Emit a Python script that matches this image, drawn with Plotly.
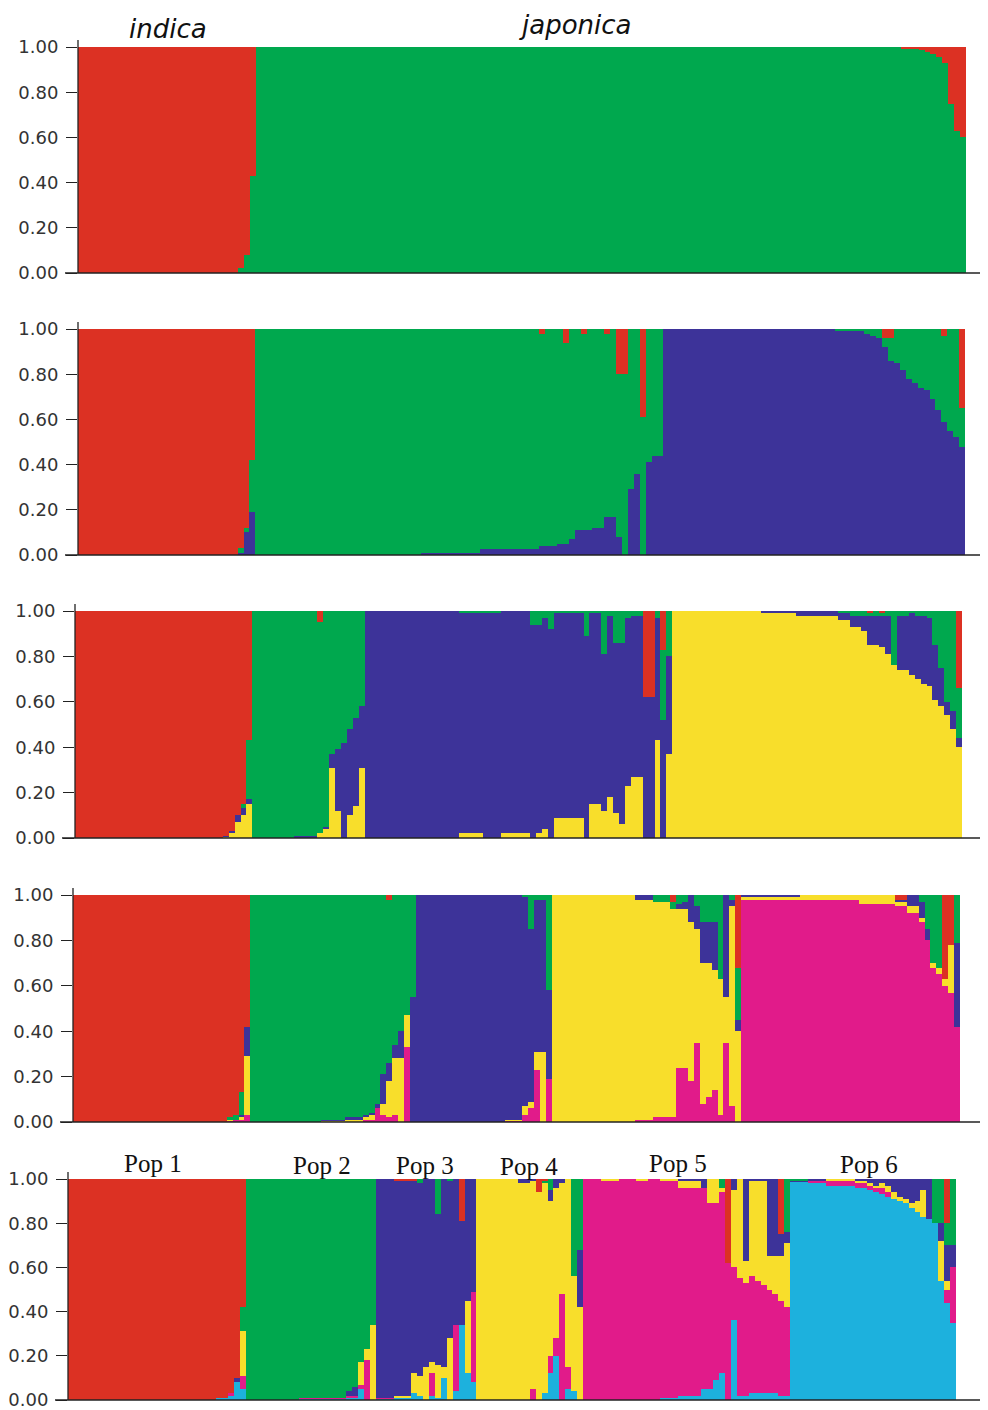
import plotly.graph_objects as go

# ---------------- data ----------------
CLUSTERS = ["red", "green", "blue", "yellow", "magenta", "cyan"]
COLORS = {"red": "#DC3123", "green": "#00A84E", "blue": "#3D3399",
          "yellow": "#F8DE2B", "magenta": "#E11B8A", "cyan": "#1DB1DD"}
TICK_VALS = [0.0, 0.2, 0.4, 0.6, 0.8, 1.0]
TICK_TEXT = ["0.00", "0.20", "0.40", "0.60", "0.80", "1.00"]
GROUP_LABELS = ["indica", "japonica"]
POP_LABELS = ["Pop 1", "Pop 2", "Pop 3", "Pop 4", "Pop 5", "Pop 6"]

# run-length lists: (number of individuals, membership per cluster in CLUSTERS order)
K2_RUNS = [
    (27, (1, 0)), (1, (0.98, 0.02)), (1, (0.92, 0.08)), (1, (0.57, 0.43)),
    (109, (0, 1)), (1, (0.005, 0.995)), (2, (0.01, 0.99)), (1, (0.015, 0.985)),
    (1, (0.02, 0.98)), (1, (0.03, 0.97)), (1, (0.045, 0.955)), (1, (0.07, 0.93)),
    (1, (0.25, 0.75)), (1, (0.37, 0.63)), (1, (0.40, 0.60)),
]
K3_RUNS = [
    (27, (1, 0, 0)), (1, (0.97, 0.02, 0.01)), (1, (0.88, 0.02, 0.10)), (1, (0.58, 0.23, 0.19)),
    (28, (0, 1, 0)), (10, (0, 0.99, 0.01)), (10, (0, 0.975, 0.025)),
    (1, (0.02, 0.94, 0.04)), (2, (0, 0.96, 0.04)), (1, (0, 0.95, 0.05)), (1, (0.06, 0.89, 0.05)),
    (1, (0, 0.93, 0.07)), (1, (0, 0.89, 0.11)), (1, (0.02, 0.87, 0.11)), (1, (0, 0.89, 0.11)),
    (2, (0, 0.88, 0.12)), (1, (0.02, 0.81, 0.17)), (1, (0, 0.83, 0.17)), (1, (0.20, 0.72, 0.08)),
    (1, (0.20, 0.80, 0)), (1, (0, 0.71, 0.29)), (1, (0, 0.64, 0.36)), (1, (0.39, 0.61, 0)),
    (1, (0, 0.59, 0.41)), (2, (0, 0.56, 0.44)),
    (29, (0, 0, 1)), (5, (0, 0.01, 0.99)), (1, (0, 0.02, 0.98)), (1, (0, 0.03, 0.97)),
    (1, (0, 0.04, 0.96)), (1, (0.04, 0.04, 0.92)), (1, (0.04, 0.10, 0.86)), (1, (0, 0.15, 0.85)),
    (1, (0, 0.18, 0.82)), (1, (0, 0.22, 0.78)), (1, (0, 0.24, 0.76)), (1, (0, 0.26, 0.74)),
    (1, (0, 0.27, 0.73)), (1, (0, 0.31, 0.69)), (1, (0, 0.36, 0.64)), (1, (0.03, 0.38, 0.59)),
    (1, (0, 0.45, 0.55)), (1, (0, 0.48, 0.52)), (1, (0.35, 0.17, 0.48)),
]
K4_RUNS = [
    (25, (1, 0, 0, 0)), (1, (0.99, 0, 0.005, 0.005)), (1, (0.97, 0, 0.01, 0.02)),
    (1, (0.90, 0, 0.03, 0.07)), (1, (0.85, 0.02, 0.03, 0.10)), (1, (0.57, 0.26, 0.02, 0.15)),
    (7, (0, 1, 0, 0)), (4, (0, 0.99, 0.01, 0)), (1, (0.05, 0.93, 0, 0.02)), (1, (0, 0.95, 0.01, 0.04)),
    (1, (0, 0.63, 0.06, 0.31)), (1, (0, 0.61, 0.27, 0.12)), (1, (0, 0.58, 0.42, 0)),
    (1, (0, 0.52, 0.38, 0.10)), (1, (0, 0.47, 0.39, 0.14)), (1, (0, 0.42, 0.27, 0.31)),
    (16, (0, 0, 1, 0)), (4, (0, 0.01, 0.97, 0.02)), (3, (0, 0.01, 0.99, 0)), (5, (0, 0, 0.98, 0.02)),
    (1, (0, 0.06, 0.94, 0)), (1, (0, 0.06, 0.92, 0.02)), (1, (0, 0.03, 0.93, 0.04)),
    (1, (0, 0.08, 0.92, 0)), (5, (0, 0.01, 0.90, 0.09)), (1, (0, 0.11, 0.89, 0)),
    (2, (0, 0.01, 0.84, 0.15)), (1, (0, 0.19, 0.69, 0.12)), (1, (0, 0.02, 0.80, 0.18)),
    (1, (0, 0.14, 0.75, 0.11)), (1, (0, 0.14, 0.80, 0.06)), (1, (0, 0.03, 0.74, 0.23)),
    (2, (0, 0.02, 0.71, 0.27)), (2, (0.38, 0, 0.62, 0)), (1, (0, 0.03, 0.54, 0.43)),
    (1, (0.17, 0.31, 0.52, 0)), (1, (0, 0.20, 0.43, 0.37)),
    (15, (0, 0, 0, 1)), (6, (0, 0, 0.01, 0.99)), (7, (0, 0, 0.02, 0.98)), (2, (0, 0.01, 0.03, 0.96)),
    (2, (0, 0.02, 0.05, 0.93)), (1, (0, 0.02, 0.07, 0.91)), (1, (0.01, 0.01, 0.13, 0.85)),
    (1, (0, 0.02, 0.13, 0.85)), (1, (0.01, 0.01, 0.14, 0.84)), (1, (0, 0.02, 0.17, 0.81)),
    (1, (0, 0.24, 0, 0.76)), (2, (0, 0.02, 0.24, 0.74)), (1, (0, 0.01, 0.27, 0.72)),
    (1, (0, 0.02, 0.28, 0.70)), (1, (0, 0.02, 0.30, 0.68)), (1, (0, 0.03, 0.30, 0.67)),
    (1, (0, 0.15, 0.24, 0.61)), (1, (0, 0.25, 0.17, 0.58)), (1, (0, 0.40, 0.06, 0.54)),
    (1, (0, 0.44, 0.08, 0.48)), (1, (0.34, 0.22, 0.04, 0.40)),
]
K5_RUNS = [
    (26, (1, 0, 0, 0, 0)), (1, (0.98, 0.01, 0, 0.005, 0.005)), (1, (0.97, 0.02, 0, 0, 0.01)),
    (1, (0.87, 0.10, 0.01, 0.01, 0.01)), (1, (0.58, 0, 0.13, 0.26, 0.03)),
    (12, (0, 1, 0, 0, 0)), (4, (0, 0.99, 0.005, 0.005, 0)), (3, (0, 0.98, 0.01, 0.01, 0)),
    (1, (0, 0.97, 0.01, 0.01, 0.01)), (1, (0, 0.96, 0.01, 0.02, 0.01)), (1, (0, 0.92, 0.02, 0, 0.06)),
    (1, (0, 0.79, 0.13, 0.05, 0.03)), (1, (0.02, 0.72, 0.08, 0.16, 0.02)), (1, (0, 0.66, 0.06, 0.25, 0.03)),
    (1, (0, 0.60, 0.12, 0.28, 0)), (1, (0, 0.53, 0, 0.14, 0.33)), (1, (0, 0.45, 0.55, 0, 0)),
    (15, (0, 0, 1, 0, 0)), (3, (0, 0, 0.99, 0.005, 0.005)), (1, (0, 0.01, 0.92, 0.04, 0.03)),
    (1, (0, 0.15, 0.76, 0.03, 0.06)), (1, (0, 0.02, 0.67, 0.08, 0.23)), (1, (0, 0.02, 0.67, 0.31, 0)),
    (1, (0, 0.42, 0.39, 0, 0.19)),
    (14, (0, 0, 0, 1, 0)), (3, (0, 0, 0.02, 0.97, 0.01)), (3, (0, 0.03, 0, 0.95, 0.02)),
    (1, (0.03, 0.03, 0, 0.92, 0.02)), (1, (0, 0.04, 0.02, 0.70, 0.24)), (1, (0, 0.03, 0.03, 0.70, 0.24)),
    (1, (0, 0, 0.12, 0.70, 0.18)), (1, (0, 0.05, 0.10, 0.50, 0.35)), (1, (0, 0.12, 0.18, 0.62, 0.08)),
    (1, (0, 0.12, 0.18, 0.59, 0.11)), (1, (0, 0.12, 0.21, 0.53, 0.14)), (1, (0, 0.37, 0, 0.60, 0.03)),
    (1, (0, 0, 0.45, 0.20, 0.35)), (1, (0, 0.02, 0.03, 0.88, 0.07)), (1, (0.32, 0.23, 0.05, 0.40, 0)),
    (10, (0, 0, 0.01, 0.01, 0.98)), (10, (0, 0, 0, 0.02, 0.98)), (6, (0, 0, 0, 0.04, 0.96)),
    (2, (0.02, 0, 0.01, 0.02, 0.95)), (2, (0, 0, 0.05, 0.03, 0.92)), (1, (0, 0.03, 0.07, 0.02, 0.88)),
    (1, (0, 0.15, 0.05, 0, 0.80)), (1, (0, 0.30, 0, 0.02, 0.68)), (1, (0, 0.32, 0, 0.03, 0.65)),
    (1, (0.37, 0, 0, 0.03, 0.60)), (1, (0.22, 0, 0, 0.21, 0.57)), (1, (0, 0.21, 0.37, 0, 0.42)),
]
K6_RUNS = [
    (25, (1, 0, 0, 0, 0, 0)), (2, (0.99, 0, 0, 0, 0, 0.01)), (1, (0.97, 0, 0, 0, 0.01, 0.02)),
    (1, (0.90, 0, 0.02, 0, 0, 0.08)), (1, (0.58, 0.11, 0, 0.20, 0.06, 0.05)),
    (9, (0, 1, 0, 0, 0, 0)), (8, (0, 0.99, 0, 0, 0.005, 0.005)), (1, (0, 0.96, 0.02, 0, 0.01, 0.01)),
    (1, (0, 0.94, 0.04, 0, 0.01, 0.01)), (1, (0, 0.83, 0, 0.10, 0.02, 0.05)),
    (1, (0, 0.77, 0, 0.05, 0.18, 0)), (1, (0, 0.66, 0, 0.34, 0, 0)),
    (3, (0, 0, 0.99, 0, 0.005, 0.005)), (3, (0.01, 0, 0.97, 0.01, 0, 0.01)),
    (1, (0.01, 0, 0.87, 0.09, 0, 0.03)), (1, (0, 0.02, 0.87, 0.09, 0, 0.02)), (1, (0, 0, 0.85, 0.15, 0, 0)),
    (1, (0, 0, 0.83, 0.05, 0.10, 0.02)), (1, (0, 0.16, 0.68, 0.15, 0, 0.01)), (1, (0, 0, 0.85, 0.05, 0, 0.10)),
    (1, (0, 0.01, 0.71, 0.28, 0, 0)), (1, (0, 0, 0.66, 0, 0.30, 0.04)), (1, (0.19, 0, 0.47, 0, 0, 0.34)),
    (1, (0, 0, 0.55, 0.33, 0, 0.12)), (1, (0, 0, 0.51, 0, 0.41, 0.08)),
    (7, (0, 0, 0, 1, 0, 0)), (2, (0, 0, 0.02, 0.98, 0, 0)), (1, (0, 0, 0.01, 0.94, 0.05, 0)),
    (1, (0.06, 0, 0, 0.94, 0, 0)), (1, (0.01, 0.01, 0, 0.95, 0, 0.03)), (1, (0, 0.05, 0.05, 0.70, 0.08, 0.12)),
    (1, (0, 0, 0.04, 0.68, 0.08, 0.20)), (1, (0, 0, 0.02, 0.50, 0.48, 0)), (1, (0, 0, 0, 0.85, 0.10, 0.05)),
    (1, (0, 0.44, 0, 0.52, 0, 0.04)), (1, (0, 0.32, 0.26, 0.42, 0, 0)),
    (3, (0, 0, 0, 0, 1, 0)), (3, (0, 0, 0, 0.01, 0.99, 0)), (3, (0, 0, 0, 0, 1, 0)),
    (2, (0, 0, 0, 0.01, 0.99, 0)), (2, (0, 0, 0, 0, 1, 0)), (3, (0, 0, 0, 0.01, 0.98, 0.01)),
    (4, (0, 0, 0.01, 0.03, 0.94, 0.02)), (1, (0, 0, 0.04, 0, 0.91, 0.05)), (1, (0, 0, 0, 0.11, 0.84, 0.05)),
    (1, (0, 0, 0, 0.11, 0.80, 0.09)), (1, (0, 0.04, 0, 0.02, 0.82, 0.12)), (1, (0.38, 0, 0, 0, 0.62, 0)),
    (1, (0, 0, 0.05, 0.35, 0.24, 0.36)), (1, (0, 0, 0, 0.45, 0.53, 0.02)), (1, (0, 0, 0.37, 0.10, 0.51, 0.02)),
    (1, (0, 0, 0.01, 0.43, 0.53, 0.03)), (1, (0, 0, 0.01, 0.45, 0.51, 0.03)), (1, (0, 0, 0.01, 0.47, 0.49, 0.03)),
    (1, (0, 0, 0.35, 0.15, 0.47, 0.03)), (1, (0, 0, 0.35, 0.17, 0.45, 0.03)), (1, (0.25, 0, 0.10, 0.20, 0.43, 0.02)),
    (1, (0, 0.24, 0.05, 0.29, 0.40, 0.02)),
    (3, (0, 0.005, 0.005, 0, 0, 0.99)), (3, (0, 0, 0.01, 0, 0.01, 0.98)), (5, (0, 0, 0, 0.01, 0.02, 0.97)),
    (2, (0, 0, 0.01, 0.01, 0.02, 0.96)), (1, (0, 0, 0.02, 0.01, 0.02, 0.95)), (1, (0, 0, 0.03, 0.01, 0.02, 0.94)),
    (1, (0, 0, 0.02, 0.02, 0.03, 0.93)), (1, (0, 0, 0.03, 0.03, 0.02, 0.92)), (1, (0, 0, 0.06, 0.03, 0, 0.91)),
    (1, (0, 0, 0.08, 0.02, 0, 0.90)), (1, (0, 0, 0.09, 0.02, 0, 0.89)), (1, (0, 0, 0.11, 0.02, 0, 0.87)),
    (1, (0, 0, 0.10, 0.05, 0, 0.85)), (1, (0, 0, 0.05, 0.12, 0, 0.83)), (1, (0, 0, 0.18, 0, 0, 0.82)),
    (1, (0, 0.20, 0, 0, 0, 0.80)), (1, (0, 0.20, 0.08, 0.18, 0, 0.54)), (1, (0.20, 0.10, 0.16, 0.04, 0.06, 0.44)),
    (1, (0, 0.30, 0.10, 0, 0.25, 0.35)),
]
PANEL_RUNS = [K2_RUNS, K3_RUNS, K4_RUNS, K5_RUNS, K6_RUNS]

# ---------------- layout geometry (pixels in the 988x1410 window) ----------------
WIN_W, WIN_H = 988, 1410
OFF = 8                      # default page body margin
W, H = WIN_W - OFF, WIN_H - OFF
PANELS_PX = [(78, 966, 47, 273), (78, 965, 329, 555), (75, 962, 611, 838),
             (73, 960, 895, 1122), (68, 956, 1179, 1400)]


def px_x(x):
    return (x - OFF) / W


def px_y(y):
    return 1 - (y - OFF) / H


def expand(runs):
    rows = []
    for count, q in runs:
        s = sum(q)
        for _ in range(count):
            rows.append([v / s for v in q])
    return rows


fig = go.Figure()
layout_axes = {}
shapes = []
for p, runs in enumerate(PANEL_RUNS):
    rows = expand(runs)
    n = len(rows)
    k = len(rows[0])
    ax = "" if p == 0 else str(p + 1)
    xs = list(range(n))
    # stacking order bottom -> top: later clusters lowest
    for c in reversed(range(k)):
        name = CLUSTERS[c]
        ys = [r[c] if r[c] > 0 else None for r in rows]
        fig.add_trace(go.Bar(
            x=xs, y=ys, width=1.0, name=name, showlegend=False,
            marker=dict(color=COLORS[name], line=dict(width=0)),
            xaxis="x" + ax, yaxis="y" + ax, hoverinfo="skip"))
    x0, x1, yt, yb = PANELS_PX[p]
    layout_axes["xaxis" + ax] = dict(
        domain=[px_x(x0), px_x(x1)], range=[-0.5, n - 0.5], visible=False,
        anchor="y" + ax, fixedrange=True, automargin=False)
    layout_axes["yaxis" + ax] = dict(
        domain=[px_y(yb), px_y(yt)], range=[0, 1], anchor="x" + ax,
        tickvals=TICK_VALS, ticktext=TICK_TEXT, ticks="outside", ticklen=11,
        tickwidth=1.3, tickcolor="#222", showline=False, showgrid=False, zeroline=False,
        tickfont=dict(family="DejaVu Sans", size=18, color="#333"),
        ticklabelstandoff=4, ticklabeloverflow="allow",
        fixedrange=True, automargin=False)
    # baseline and left axis line
    shapes.append(dict(type="line", xref="paper", yref="paper",
                       x0=px_x(x0 - 13), x1=px_x(987), y0=px_y(yb), y1=px_y(yb),
                       line=dict(color="#222", width=1.6)))
    shapes.append(dict(type="line", xref="paper", yref="paper",
                       x0=px_x(x0), x1=px_x(x0), y0=px_y(yb), y1=px_y(yt - 7),
                       line=dict(color="#222", width=1.3)))

annotations = []
for text, (px, py) in zip(GROUP_LABELS, [(168, 29), (575, 25)]):
    annotations.append(dict(text="<i>" + text + "</i>", x=px_x(px), y=px_y(py),
                            xref="paper", yref="paper", showarrow=False,
                            xanchor="center", yanchor="middle",
                            font=dict(family="DejaVu Sans", size=26, color="#111")))
for text, (px, py) in zip(POP_LABELS, [(153, 1163), (322, 1165), (425, 1165),
                                       (529, 1166), (678, 1163), (869, 1164)]):
    annotations.append(dict(text=text, x=px_x(px), y=px_y(py),
                            xref="paper", yref="paper", showarrow=False,
                            xanchor="center", yanchor="middle",
                            font=dict(family="Liberation Serif", size=25, color="#111")))

fig.update_layout(
    width=W, height=H, margin=dict(l=0, r=0, t=0, b=0, pad=0), autosize=False,
    paper_bgcolor="white", plot_bgcolor="white",
    barmode="stack", bargap=0, showlegend=False,
    shapes=shapes, annotations=annotations, **layout_axes)

fig.write_html("out.html")
